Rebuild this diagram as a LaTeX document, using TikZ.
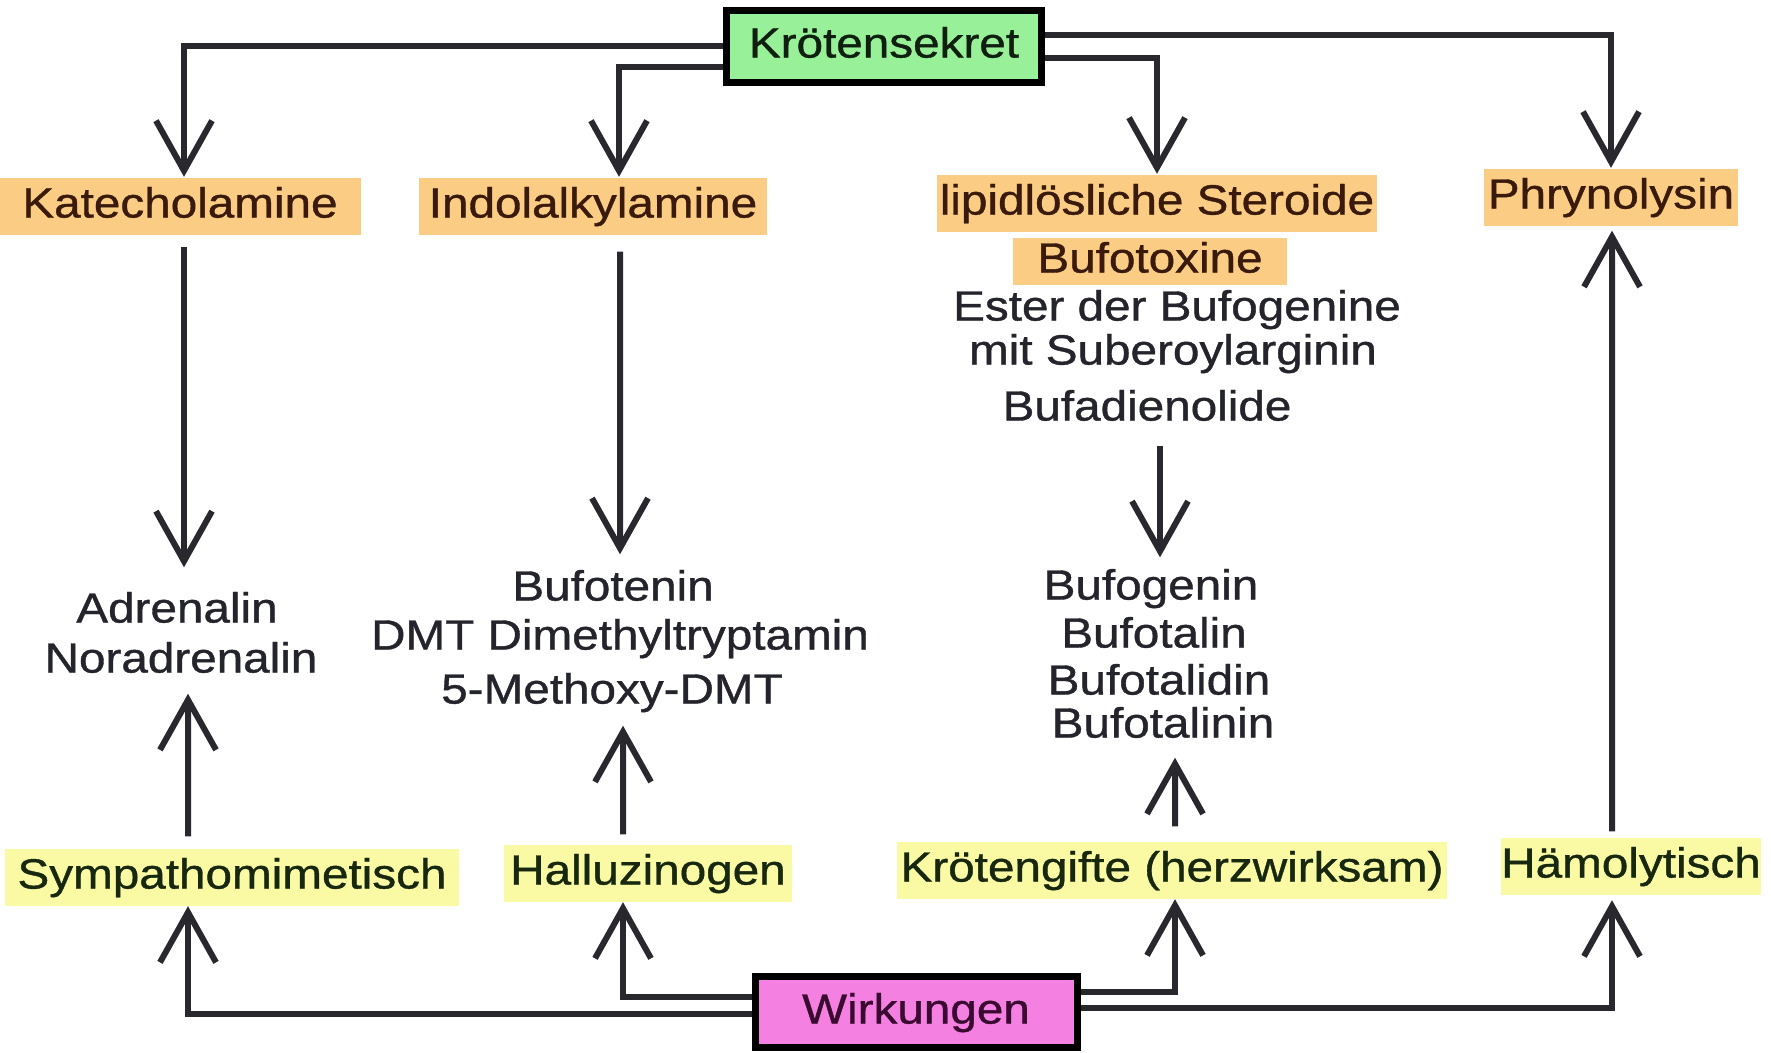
\documentclass[tikz,border=0pt]{standalone}
\usepackage{fontspec}
\setmainfont[FakeStretch=1.13,FakeBold=0.9]{Liberation Sans}
\usepackage{tikz}
\usepackage{xcolor}
\usetikzlibrary{arrows.meta,positioning}

\definecolor{orangehl}{RGB}{250,204,132}
\definecolor{yellowhl}{RGB}{250,250,165}
\definecolor{greenbox}{RGB}{152,240,152}
\definecolor{pinkbox}{RGB}{244,128,226}
\definecolor{linecol}{RGB}{40,40,46}
\definecolor{darktext}{RGB}{36,36,44}
\definecolor{browntext}{RGB}{58,26,12}
\definecolor{greentext}{RGB}{24,40,16}
\definecolor{sekrettext}{RGB}{16,32,16}
\definecolor{wirktext}{RGB}{58,10,48}

\begin{document}
\begin{tikzpicture}[x=0.1mm, y=-0.1mm,
    txt/.style={font=\fontsize{12}{14}\selectfont, text=darktext,
        text height=3.1mm, text depth=0.8mm, inner sep=0.5mm},
    mainbox/.style={txt, draw=black, line width=0.7mm,
        minimum width=31.5mm, minimum height=7.2mm},
    orangelbl/.style={txt, fill=orangehl, text=browntext, inner xsep=1mm, inner ysep=0.9mm},
    yellowlbl/.style={txt, fill=yellowhl, text=greentext, inner xsep=0.6mm, inner ysep=0.9mm},
    conn/.style={draw=linecol, line width=0.6mm, -{Straight Barb[length=5mm,width=5.6mm]}}]

    % Frame
    \fill[white] (0,0) rectangle (1771,1052);
    \useasboundingbox (0,0) rectangle (1771,1052);

    % Main boxes
    \node[mainbox, fill=greenbox, text=sekrettext] (sekret) at (884,46) {Krötensekret};
    \node[mainbox, fill=pinkbox, text=wirktext, minimum width=32.2mm, minimum height=7.1mm] (wirk) at (916,1012) {Wirkungen};

    % Substance classes
    \node[orangelbl, inner xsep=2.3mm] (kat) at (180,206) {Katecholamine};
    \node[orangelbl] (indol) at (593,206) {Indolalkylamine};
    \node[orangelbl, inner xsep=0.3mm] (lipid) at (1157,203) {lipidlösliche Steroide};
    \node[orangelbl, inner xsep=0.4mm] (phryn) at (1611,197) {Phrynolysin};
    \node[orangelbl, inner xsep=2.4mm, inner ysep=0.4mm] (bufotox) at (1150,261) {Bufotoxine};
    \node[txt] (ester) at (1177,309) {Ester der Bufogenine};
    \node[txt] (suber) at (1173,353) {mit Suberoylarginin};
    \node[txt] (bufad) at (1147,409) {Bufadienolide};

    % Substances
    \node[txt] (adr) at (177,611) {Adrenalin};
    \node[txt] (noradr) at (181,661) {Noradrenalin};
    \node[txt] (bufot) at (613,589) {Bufotenin};
    \node[txt] (dmt) at (620,638) {DMT Dimethyltryptamin};
    \node[txt] (meo) at (612,692) {5-Methoxy-DMT};
    \node[txt] (bufog) at (1151,588) {Bufogenin};
    \node[txt] (bufotal) at (1154,636) {Bufotalin};
    \node[txt] (bufotalid) at (1159,683) {Bufotalidin};
    \node[txt] (bufotalin) at (1163,726) {Bufotalinin};

    % Effects
    \node[yellowlbl, inner xsep=1.2mm] (symp) at (232,877) {Sympathomimetisch};
    \node[yellowlbl] (hall) at (648,873) {Halluzinogen};
    \node[yellowlbl, inner xsep=0.4mm] (kgift) at (1172,870) {Krötengifte (herzwirksam)};
    \node[yellowlbl, inner xsep=0mm] (haem) at (1631,866) {Hämolytisch};

    % Krötensekret -> classes
    \draw[conn] (sekret.west) -| ([xshift=0.4mm]kat.north);
    \draw[conn] ([yshift=-2.1mm]sekret.west) -| ([xshift=2.6mm]indol.north);
    \draw[conn] ([yshift=-1.2mm]sekret.east) -| (lipid.north);
    \draw[conn] ([yshift=1.1mm]sekret.east) -| (phryn.north);

    % classes -> substances
    \draw[conn, shorten <=1.2mm, shorten >=1.85mm] ([xshift=0.4mm]kat.south) -- ([xshift=0.7mm]adr.north);
    \draw[conn, shorten <=1.65mm, shorten >=0.95mm] ([xshift=2.7mm]indol.south) -- ([xshift=0.7mm]bufot.north);
    \draw[conn, shorten <=1.2mm, shorten >=0.55mm] ([xshift=1.3mm]bufad.south) -- ([xshift=0.9mm]bufog.north);

    % effects -> substances
    \draw[conn, shorten <=1.15mm, shorten >=0.75mm] ([xshift=-4.4mm]symp.north) -- ([xshift=0.7mm]noradr.south);
    \draw[conn, shorten <=0.95mm, shorten >=0.85mm] ([xshift=-2.5mm]hall.north) -- ([xshift=1.1mm]meo.south);
    \draw[conn, shorten <=1.45mm, shorten >=0.65mm] ([xshift=0.3mm]kgift.north) -- ([xshift=1.2mm]bufotalin.south);
    \draw[conn, shorten <=0.55mm, shorten >=0.45mm] ([xshift=-1.9mm]haem.north) -- ([xshift=0.1mm]phryn.south);

    % Wirkungen -> effects
    \draw[conn] ([yshift=-0.2mm]wirk.west) -| ([xshift=-4.4mm]symp.south);
    \draw[conn] ([yshift=1.5mm]wirk.west) -| ([xshift=-2.5mm]hall.south);
    \draw[conn] ([yshift=2mm]wirk.east) -| ([xshift=0.3mm]kgift.south);
    \draw[conn, shorten >=0.5mm] ([yshift=0.4mm]wirk.east) -| ([xshift=-1.9mm]haem.south);
\end{tikzpicture}
\end{document}
